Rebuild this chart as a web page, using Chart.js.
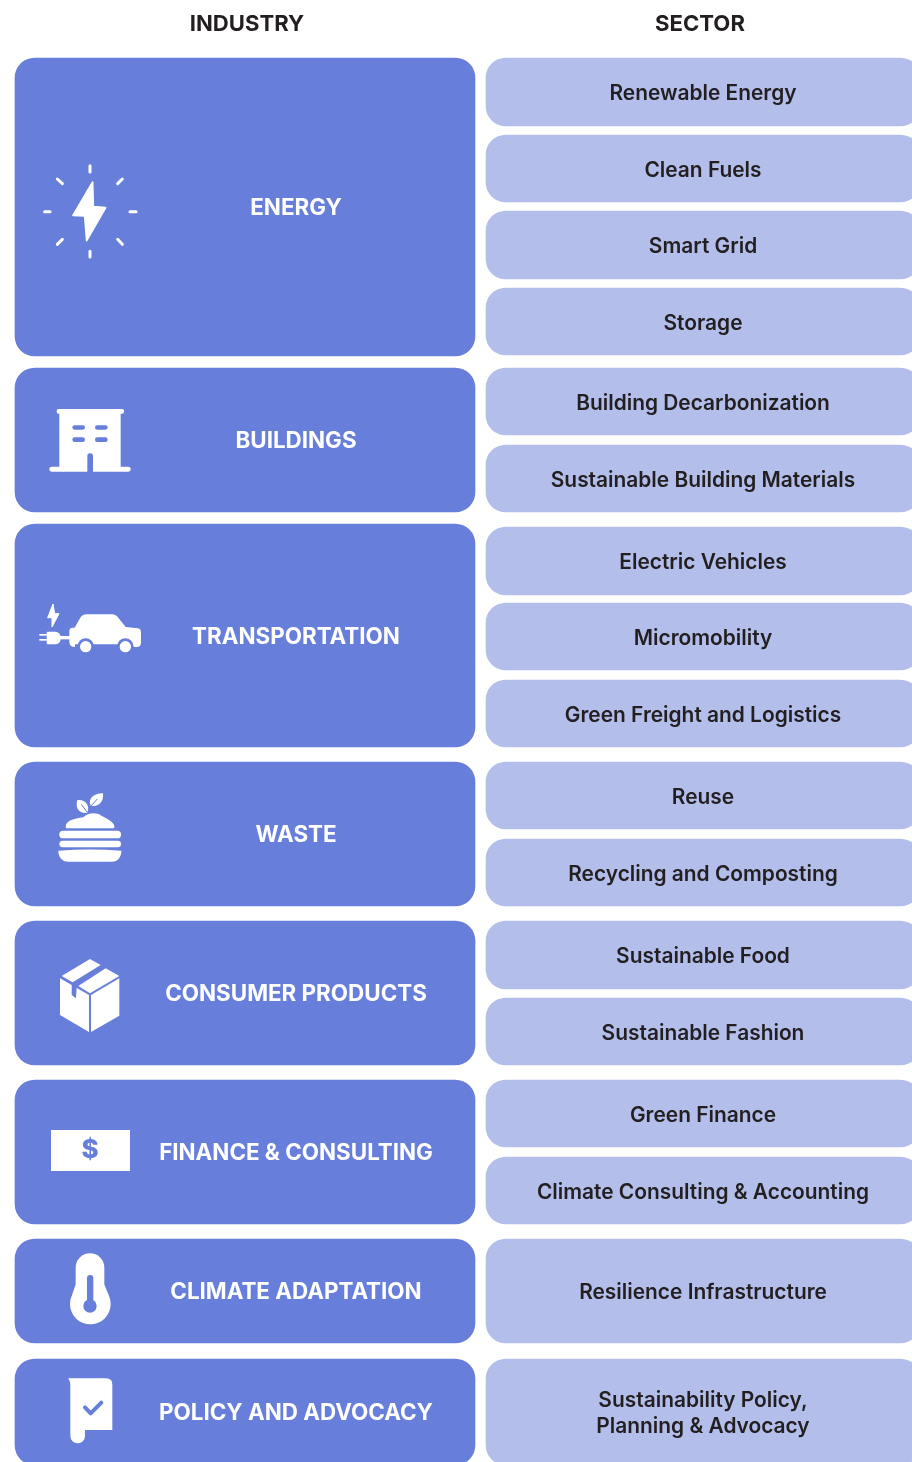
<!DOCTYPE html>
<html><head><meta charset="utf-8">
<style>html,body{margin:0;padding:0;background:#fff;overflow:hidden;width:912px;height:1462px}canvas{display:block}</style>
<script src="https://cdn.jsdelivr.net/npm/chart.js@4"></script>
</head><body><canvas id="c" width="940" height="1462"></canvas>
<script>
const columns = ["INDUSTRY", "SECTOR"];
const industries = ["ENERGY","BUILDINGS","TRANSPORTATION","WASTE","CONSUMER PRODUCTS","FINANCE & CONSULTING","CLIMATE ADAPTATION","POLICY AND ADVOCACY"];
const industryStart = [58,368,524,762,921,1080,1239,1359];
const industryEnd   = [356,512,747,906,1065,1224,1343,1465];
const sectors = ["Renewable Energy","Clean Fuels","Smart Grid","Storage","Building Decarbonization","Sustainable Building Materials","Electric Vehicles","Micromobility","Green Freight and Logistics","Reuse","Recycling and Composting","Sustainable Food","Sustainable Fashion","Green Finance","Climate Consulting & Accounting","Resilience Infrastructure","Sustainability Policy,\nPlanning & Advocacy"];
const sectorStart = [58,135,211,288,368,445,527,603,680,762,839,921,998,1080,1157,1239,1359];
const sectorEnd   = [126,202,279,355,435,512,595,670,747,829,906,989,1065,1147,1224,1343,1465];

const DARK="#677fda", LIGHT="#b3beeb", INK="#231f20", WHITE="#ffffff";

function poly(c,pts){c.beginPath();pts.forEach((p,i)=>i?c.lineTo(p[0],p[1]):c.moveTo(p[0],p[1]));c.closePath();}
function rr(c,x,y,w,h,r){c.beginPath();c.roundRect(x,y,w,h,r);c.fill();}
const icons = [
 {x:30,dy:-57,draw(c){ // energy (3x crop units)
   c.fillStyle=c.strokeStyle=WHITE;c.lineJoin="round";c.lineCap="round";
   c.lineWidth=5;poly(c,[[188,96],[129,196],[164,198],[170,272],[227,173],[190,170]]);c.fill();c.stroke();
   c.lineWidth=9;
   [[180,47,180,66],[180,304,180,321],[44,185,60,185],[300,185,318,185],[82,87,97,101],[277,87,263,101],[82,283,97,268],[277,283,263,268]].forEach(l=>{c.beginPath();c.moveTo(l[0],l[1]);c.lineTo(l[2],l[3]);c.stroke();});
 }},
 {x:30,dy:-45,draw(c){ // building
   c.fillStyle=WHITE;rr(c,80,42,202,14,6);c.fillRect(88,50,184,175);rr(c,58,215,244,15,7);
   c.fillStyle=DARK;rr(c,127,91,38,13,6.5);rr(c,195,91,38,13,6.5);rr(c,127,127,38,14,7);rr(c,195,127,38,14,7);
   c.beginPath();c.roundRect(172,175,17,60,[8,8,0,0]);c.fill();
 }},
 {x:30,dy:-40.5,draw(c){ // EV
   c.fillStyle=WHITE;c.strokeStyle=WHITE;c.lineJoin="round";c.lineWidth=3;
   poly(c,[[69,27],[53,68],[66,68],[66,96],[87,56],[74,56]]);c.fill();c.stroke();
   c.beginPath();c.roundRect(50,110,42,38,[3,16,16,3]);c.fill();
   c.fillRect(28,117,22,5);c.fillRect(28,132,22,5);c.fillRect(90,123,32,10);
   c.beginPath();c.moveTo(118,108);c.quadraticCurveTo(118,99,128,98);c.lineTo(134,98);c.lineTo(150,70);c.quadraticCurveTo(156,58,170,58);c.lineTo(245,58);c.quadraticCurveTo(258,58,266,70);c.lineTo(287,96);c.lineTo(322,100);c.quadraticCurveTo(333,101,333,112);c.lineTo(333,145);c.quadraticCurveTo(332,157,318,156);c.lineTo(305,156);c.lineTo(305,148);c.lineTo(135,148);c.lineTo(135,156);c.quadraticCurveTo(118,156,118,140);c.closePath();c.fill();
   c.fillStyle=DARK;c.beginPath();c.arc(167,155,25,0,7);c.fill();c.beginPath();c.arc(286,155,25,0,7);c.fill();
   c.fillStyle=WHITE;c.beginPath();c.arc(167,155,17,0,7);c.fill();c.beginPath();c.arc(286,155,17,0,7);c.fill();
 }},
 {x:40,dy:-49,draw(c){ // waste
   c.fillStyle=WHITE;
   c.beginPath();c.moveTo(141,84);c.bezierCurveTo(112,86,106,64,112,45);c.bezierCurveTo(136,42,152,62,141,84);c.fill();
   c.beginPath();c.moveTo(152,62);c.bezierCurveTo(142,40,164,24,189,25);c.bezierCurveTo(192,50,176,68,152,62);c.fill();
   c.strokeStyle=DARK;c.lineWidth=3;c.beginPath();c.moveTo(124,58);c.lineTo(143,84);c.stroke();c.beginPath();c.moveTo(172,42);c.lineTo(150,66);c.stroke();
   c.beginPath();c.moveTo(78,130);c.bezierCurveTo(72,110,100,100,130,97);c.bezierCurveTo(142,84,168,80,184,92);c.bezierCurveTo(204,102,230,116,222,130);c.closePath();c.fill();
   rr(c,58,137,185,23,11);rr(c,58,167,185,20,10);
   c.beginPath();c.moveTo(55,197);c.quadraticCurveTo(150,190,244,197);c.bezierCurveTo(244,215,235,230,215,230);c.lineTo(85,230);c.bezierCurveTo(65,230,55,215,55,197);c.fill();
 }},
 {x:40,dy:-43,draw(c){ // box
   c.fillStyle=WHITE;
   poly(c,[[60,85],[147,135],[147,246],[60,195]]);c.fill();
   poly(c,[[153,135],[238,85],[238,197],[153,246]]);c.fill();
   poly(c,[[65,78],[150,27],[182,45],[98,97]]);c.fill();
   poly(c,[[115,108],[197,55],[238,78],[150,130]]);c.fill();
   c.fillStyle=DARK;poly(c,[[95,100],[110,110],[108,145],[95,135]]);c.fill();
 }},
 {x:40,dy:-32,draw(c){ // money
   c.fillStyle=WHITE;c.fillRect(33,30,237,123);
   c.fillStyle=DARK;c.font="800 78px Inter";c.textAlign="center";c.textBaseline="middle";c.fillText("$",150,91);
 }},
 {x:50,dy:-45,draw(c){ // thermometer
   c.fillStyle=WHITE;rr(c,77,22,86,130,43);c.beginPath();c.arc(121,174,61,0,7);c.fill();
   poly(c,[[77,115],[163,115],[176,148],[66,148]]);c.fill();
   c.fillStyle=DARK;rr(c,111,87,19,90,9);c.beginPath();c.arc(120,180,20,0,7);c.fill();
 }},
 {x:50,dy:-47,draw(c){ // policy
   c.fillStyle=WHITE;c.beginPath();c.moveTo(55,40);c.lineTo(168,40);c.quadraticCurveTo(187,40,187,59);c.lineTo(187,195);c.lineTo(105,195);c.lineTo(105,213);c.arc(83,213,22,0,Math.PI);c.lineTo(61,60);c.quadraticCurveTo(61,50,55,40);c.closePath();c.fill();
   c.strokeStyle=DARK;c.lineWidth=12;c.lineCap="round";c.lineJoin="round";c.beginPath();c.moveTo(105,127);c.lineTo(122,145);c.lineTo(154,113);c.stroke();
 }}
];

const textPlugin = {
 id:"diagramText",
 afterDatasetsDraw(chart){
  const c=chart.ctx, ind=chart.getDatasetMeta(0).data, sec=chart.getDatasetMeta(1).data;
  c.save();
  c.textAlign="center";c.textBaseline="middle";
  c.fillStyle=INK;c.font="700 22.1px Inter";
  c.fillText(columns[0],247,24.5);c.fillText(columns[1],700,24.5);
  c.fillStyle=WHITE;c.font="700 22.4px Inter";
  ind.forEach((b,i)=>{const p=b.getCenterPoint();c.fillText(industries[i],p.x+51,p.y+1.5);});
  c.fillStyle=INK;c.font="600 20.9px Inter";
  sec.forEach((b,i)=>{
    const p=b.getCenterPoint();
    const lines=sectors[i].split("\n");
    lines.forEach((t,k)=>c.fillText(t,p.x,p.y+2+(k-(lines.length-1)/2)*26));
  });
  c.restore();
  ind.forEach((b,i)=>{
    const p=b.getCenterPoint();
    c.save();c.translate(icons[i].x,p.y+icons[i].dy);c.scale(1/3,1/3);icons[i].draw(c);c.restore();
  });
 }
};

new Chart(document.getElementById("c"),{
 type:"bar",
 data:{labels:columns,datasets:[
  {label:columns[0],data:industryStart.map((s,i)=>({x:columns[0],y:[s,industryEnd[i]]})),backgroundColor:DARK,barThickness:460,borderRadius:20,borderSkipped:false,grouped:false,clip:false},
  {label:columns[1],data:sectorStart.map((s,i)=>({x:columns[1],y:[s,sectorEnd[i]]})),backgroundColor:LIGHT,barThickness:434,borderRadius:20,borderSkipped:false,grouped:false,clip:false}
 ]},
 options:{
  responsive:false,animation:false,devicePixelRatio:1,
  layout:{padding:{left:16,right:8,top:0,bottom:0}},
  plugins:{legend:{display:false},tooltip:{enabled:false},title:{display:false}},
  scales:{
   x:{type:"category",display:false,offset:true},
   y:{type:"linear",display:false,reverse:true,min:0,max:1462}
  }
 },
 plugins:[textPlugin]
});
</script></body></html>
